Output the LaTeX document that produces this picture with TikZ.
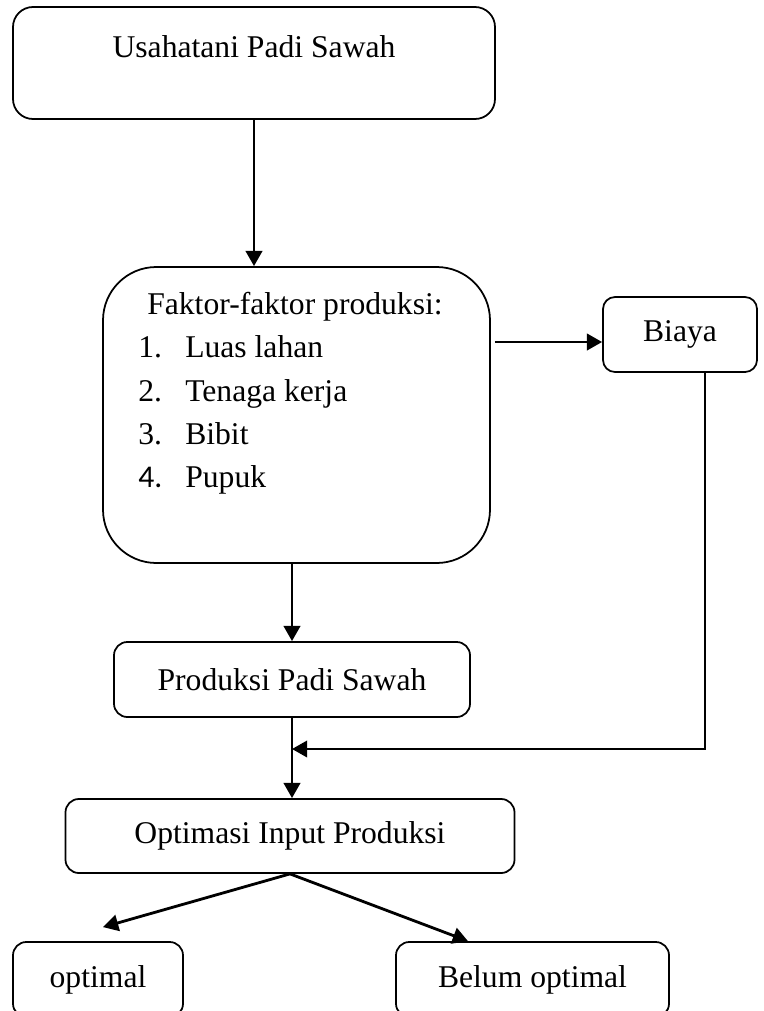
\documentclass[tikz,border=0pt]{standalone}
\usepackage{fontspec}
\setmainfont{Liberation Serif}
\newfontfamily\numfont{Carlito}
\usetikzlibrary{arrows.meta,positioning,calc}

\begin{document}
\begin{tikzpicture}[
    box/.style={draw, line width=1.5pt, rounded corners=0.4cm, inner sep=0pt, font=\fontsize{27}{36.9}\selectfont},
    arrow/.style={-{Triangle[length=13pt,width=14pt]}, line width=2.4pt}
]
    \useasboundingbox (0,0) rectangle (22.92,-30.33);
    \clip (0,0) rectangle (22.92,-30.33);

    % Boxes
    \node[box, rounded corners=0.6cm, minimum width=14.46cm, minimum height=3.36cm, text depth=0.98cm] (usaha) at (7.62,-1.89) {Usahatani Padi Sawah};
    \node[box, rounded corners=1.6cm, minimum width=11.61cm, minimum height=8.88cm, align=left, text depth=1.5cm] (faktor) at (8.895,-12.45) {\hspace*{0.27cm}Faktor-faktor produksi:\hspace*{0.36cm}\\
        \makebox[1.41cm][l]{1.}Luas lahan\\
        \makebox[1.41cm][l]{2.}Tenaga kerja\\
        \makebox[1.41cm][l]{3.}Bibit\\
        \makebox[1.41cm][l]{\numfont 4.}Pupuk};
    \node[box, rounded corners=0.36cm, minimum width=4.62cm, minimum height=2.25cm] (biaya) at (20.4,-10.035) {Biaya};
    \node[box, minimum width=10.68cm, minimum height=2.25cm] (produksi) at (8.76,-20.385) {Produksi Padi Sawah};
    \node[box, minimum width=13.47cm, minimum height=2.22cm] (optimasi) at (8.7,-25.08) {Optimasi Input Produksi};
    \node[box, minimum width=5.1cm, minimum height=2.25cm] (optimal) at (2.94,-29.385) {optimal};
    \node[box, minimum width=8.19cm, minimum height=2.25cm] (belum) at (15.975,-29.385) {Belum optimal};

    % Arrows
    \draw[arrow] (usaha.south) -- (usaha.south |- faktor.north);
    \draw[arrow, shorten <=0.12cm] ([yshift=-0.225cm]biaya.west -| faktor.east) -- ([yshift=-0.225cm]biaya.west);
    \draw[arrow] (faktor.south -| produksi.north) -- (produksi.north);
    \draw[arrow] (produksi.south) -- (produksi.south |- optimasi.north);
    \coordinate (join) at (produksi.south |- 0,-22.47);
    \draw[arrow] ([xshift=0.75cm]biaya.south) |- (join);
    \draw[arrow] (optimasi.south) -- ([shift={(0.15,0.42)}]optimal.north);
    \draw[arrow] (optimasi.south) -- ([xshift=-1.935cm]belum.north);

\end{tikzpicture}
\end{document}
